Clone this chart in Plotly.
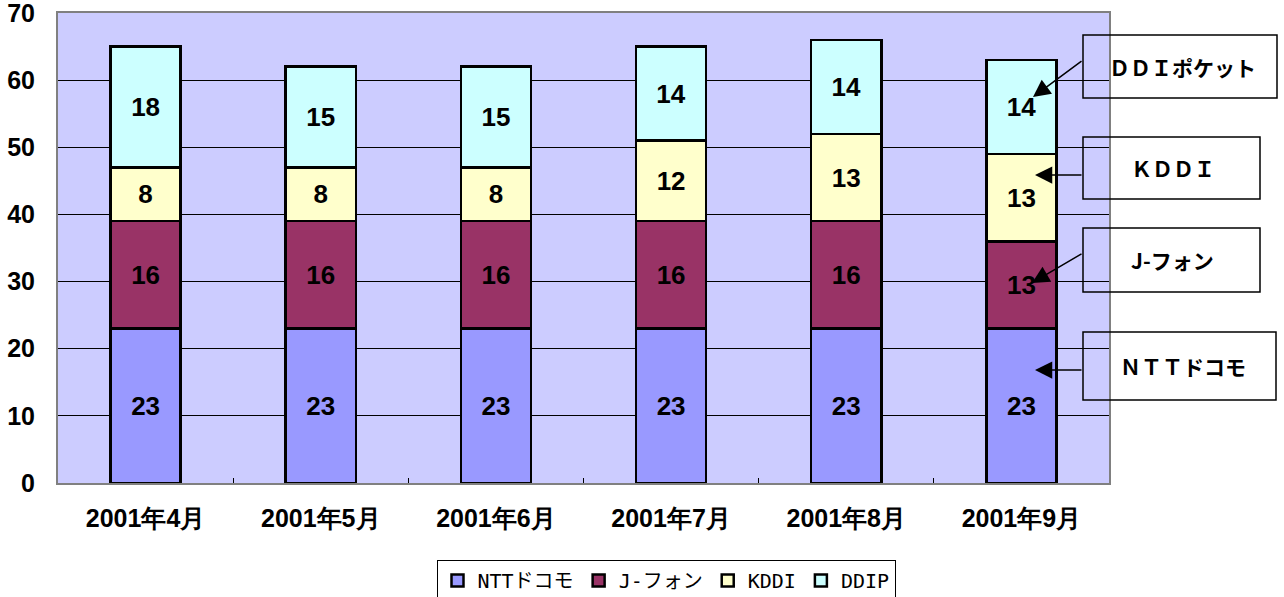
import plotly.graph_objects as go

categories = ["2001年4月", "2001年5月", "2001年6月", "2001年7月", "2001年8月", "2001年9月"]
ntt = [23, 23, 23, 23, 23, 23]
jphone = [16, 16, 16, 16, 16, 13]
kddi = [8, 8, 8, 12, 13, 13]
ddip = [18, 15, 15, 14, 14, 14]

series_names = ["NTTドコモ", "J-フォン", "KDDI", "DDIP"]
series_values = [ntt, jphone, kddi, ddip]
colors = ["#9999FF", "#993366", "#FFFFCC", "#CCFFFF"]

W, H = 1284, 597
L, R, T, B = 58, 175, 13, 114
PW, PH = W - L - R, H - T - B

def px(x):
    return (x - L) / PW

def py(y):
    return (H - B - y) / PH

fig = go.Figure()
for name, vals, col in zip(series_names, series_values, colors):
    fig.add_trace(go.Bar(
        x=categories, y=vals, name=name,
        marker=dict(color=col, line=dict(color="black", width=2.5)),
        text=[str(v) for v in vals], textposition="inside",
        insidetextanchor="middle",
        textfont=dict(family="Liberation Sans, Arial", size=26, color="black", weight="bold"),
        constraintext="none",
    ))

fig.update_layout(
    barmode="stack", bargap=0.6,
    width=W, height=H,
    margin=dict(l=L, r=R, t=T, b=B, autoexpand=False),
    paper_bgcolor="white", plot_bgcolor="#CCCCFF",
    font=dict(family="Liberation Sans, Arial", color="black"),
    legend=dict(
        orientation="h", x=px(666), xanchor="center", y=py(560), yanchor="top",
        bordercolor="black", borderwidth=1, bgcolor="white",
        font=dict(family="DejaVu Sans Mono, Noto Sans CJK JP", size=20, color="black"),
        itemwidth=30, traceorder="normal",
    ),
    showlegend=True,
)

fig.update_xaxes(
    type="category", showgrid=False, showline=True, linecolor="#808080", linewidth=2,
    mirror=True, ticks="inside", tickson="boundaries", ticklen=5, tickcolor="black",
    tickfont=dict(family="Liberation Sans, Arial", size=25, color="black", weight="bold"),
    ticklabelstandoff=12, automargin=False,
)
fig.update_yaxes(
    range=[0, 70], dtick=10, showgrid=True, gridcolor="black", gridwidth=1,
    showline=True, linecolor="#808080", linewidth=2, mirror=True, ticks="",
    tickfont=dict(family="Liberation Sans, Arial", size=25, color="black", weight="bold"),
    ticklabelstandoff=16, zeroline=False, automargin=False,
    ticklabeloverflow="allow",
)

boxes = [
    ("ＤＤＩポケット", 1083, 1277, 35, 98, 1182),
    ("ＫＤＤＩ", 1083, 1260, 137, 199, 1173),
    ("J-フォン", 1083, 1260, 228, 292, 1172),
    ("ＮＴＴドコモ", 1083, 1276, 332, 400, 1183),
]
for text, x0, x1, y0, y1, cx in boxes:
    fig.add_shape(type="rect", xref="paper", yref="paper",
                  x0=px(x0), x1=px(x1), y0=py(y1), y1=py(y0),
                  line=dict(color="black", width=1.5), fillcolor="rgba(0,0,0,0)")
    fig.add_annotation(xref="paper", yref="paper", x=px(cx), y=py((y0 + y1) / 2),
                       xanchor="center", yanchor="middle",
                       text=f"<b>{text}</b>", showarrow=False,
                       font=dict(family="Noto Sans CJK JP", size=21, color="black", weight="bold"))

arrows = [
    (1033, 97, 1083, 60),
    (1035, 175, 1083, 175),
    (1032, 283, 1083, 253),
    (1035, 370, 1083, 370),
]
for tx, ty, sx, sy in arrows:
    fig.add_annotation(xref="paper", yref="paper", x=px(tx), y=py(ty),
                       ax=sx - tx, ay=sy - ty, axref="pixel", ayref="pixel",
                       text="", showarrow=True, arrowhead=2, arrowsize=2.3,
                       arrowwidth=1.5, arrowcolor="black")

fig.write_html("out.html")
